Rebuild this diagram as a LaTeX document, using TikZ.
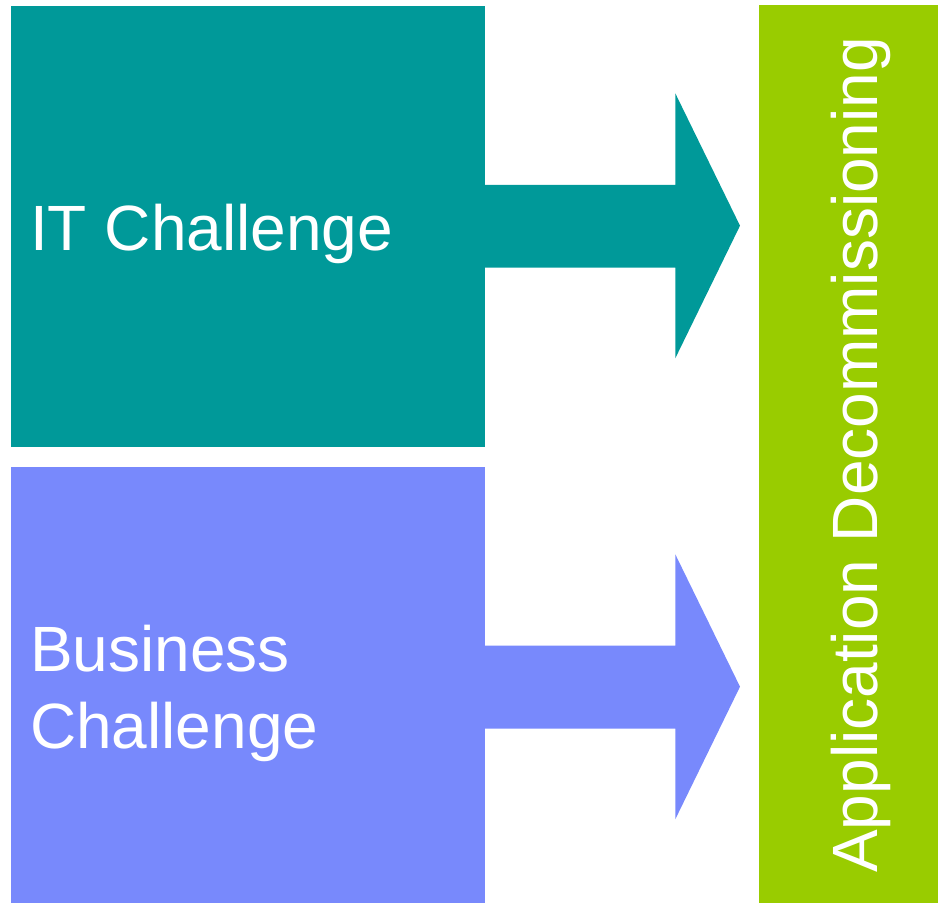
\documentclass[tikz,border=0pt]{standalone}
\usepackage{fontspec}
\setmainfont{Liberation Sans}
\definecolor{tealc}{HTML}{009999}
\definecolor{bluec}{HTML}{7889FC}
\definecolor{greenc}{HTML}{99CC00}
\begin{document}
\begin{tikzpicture}[x=1pt,y=1pt,
  lbl/.style={text=white,inner sep=0pt,font=\fontsize{64}{77}\selectfont,align=left},
  panel/.style={inner sep=0pt,outer sep=0pt}]
\useasboundingbox (0,0) rectangle (938,903);
% boxes
\fill[tealc] (10.7,903-6) rectangle (485,903-446.7);
\fill[bluec] (10.7,903-466.7) rectangle (485,0);
\fill[greenc] (759,903-5.3) rectangle (938,0);
% arrows
\fill[tealc] (485,903-185) -- (675.3,903-185) -- (675.3,903-93.3) -- (740,903-225.7)
  -- (675.3,903-358.3) -- (675.3,903-267.7) -- (485,903-267.7) -- cycle;
\fill[bluec] (485,903-645.7) -- (675.3,903-645.7) -- (675.3,903-554.3) -- (740,903-686.7)
  -- (675.3,903-819.3) -- (675.3,903-728.7) -- (485,903-728.7) -- cycle;
% labels
\node[lbl,anchor=base west] (itl) at (30,903-251) {IT Challenge};
\node[lbl,anchor=base west] (bl1) at (30,903-672) {Business};
\node[lbl,anchor=base west] (bl2) at (30,903-748.3) {Challenge};
\node[lbl,anchor=base west,rotate=90] (ad) at (877,903-873) {Application Decommissioning};
\end{tikzpicture}
\end{document}
